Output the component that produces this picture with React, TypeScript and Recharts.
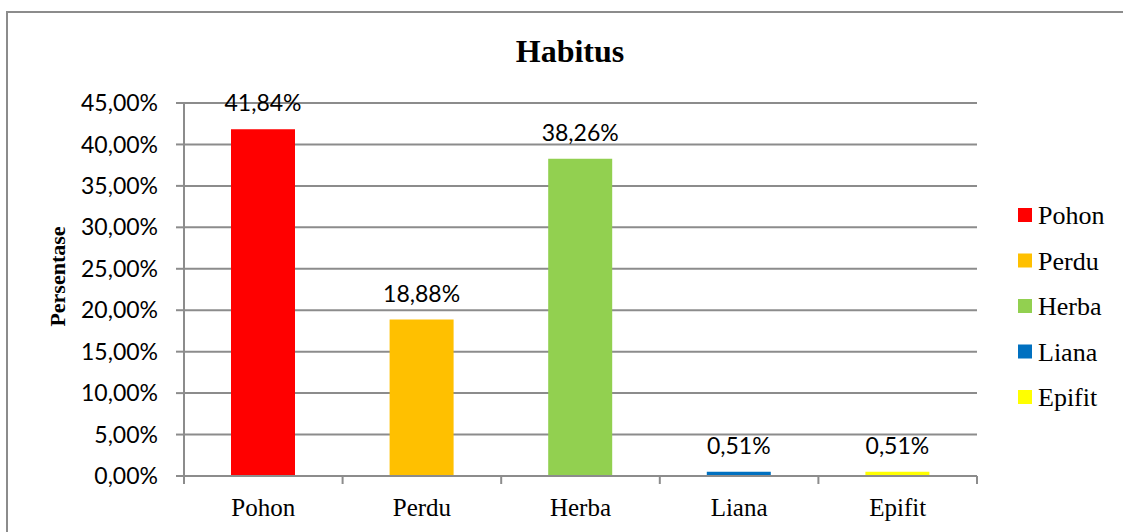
import { BarChart, Bar, XAxis, YAxis, CartesianGrid, Cell, LabelList, Label } from 'recharts'

// Habitus composition (percent)
const categories = ['Pohon', 'Perdu', 'Herba', 'Liana', 'Epifit']
const values = [41.84, 18.88, 38.26, 0.51, 0.51]
const colors = ['#FF0000', '#FFC000', '#92D050', '#0070C0', '#FFFF00']
const yTicks = [0, 5, 10, 15, 20, 25, 30, 35, 40, 45]

const data = categories.map((name, i) => ({ name, value: values[i] }))

const GRID = '#8c8c8c'
const SERIF = '"Liberation Serif", "Times New Roman", serif'
const SANS = 'Lato, "Open Sans", sans-serif'

const pct = (v: number) => `${v.toFixed(2).replace('.', ',')}%`

const CategoryTick = (props: any) => {
  const { x, y, payload, index } = props
  const half = payload?.offset || 79.3
  return (
    <g>
      <line x1={x - half} y1={y} x2={x - half} y2={y + 8} stroke={GRID} strokeWidth={2} />
      {index === categories.length - 1 && (
        <line x1={x + half} y1={y} x2={x + half} y2={y + 8} stroke={GRID} strokeWidth={2} />
      )}
      <text x={x} y={y + 40} textAnchor="middle" fontFamily={SERIF} fontSize={25} fill="#000">
        {payload.value}
      </text>
    </g>
  )
}

export default function App() {
  return (
    <div style={{ position: 'absolute', left: 0, top: 0, width: 1123, height: 532, background: '#fff' }}>
      <svg width={1123} height={532} style={{ position: 'absolute', left: 0, top: 0 }}>
        <line x1={7} y1={12} x2={1123} y2={12} stroke={GRID} strokeWidth={2} />
        <line x1={7} y1={11} x2={7} y2={532} stroke={GRID} strokeWidth={2} />
        <text x={570} y={62} textAnchor="middle" fontFamily={SERIF} fontWeight="bold" fontSize={32} fill="#000">
          Habitus
        </text>
      </svg>

      <div style={{ position: 'absolute', left: 0, top: 0 }}>
        <BarChart
          width={1123}
          height={532}
          data={data}
          margin={{ top: 103, right: 146, bottom: 6, left: 30 }}
        >
          <CartesianGrid vertical={false} stroke={GRID} strokeWidth={2} />
          <XAxis
            dataKey="name"
            height={50}
            axisLine={{ stroke: GRID, strokeWidth: 2 }}
            tickLine={false}
            tickSize={0}
            tickMargin={0}
            tick={<CategoryTick />}
            interval={0}
          />
          <YAxis
            width={154}
            domain={[0, 45]}
            ticks={yTicks}
            interval={0}
            tickFormatter={pct}
            axisLine={{ stroke: GRID, strokeWidth: 2 }}
            tickLine={{ stroke: GRID, strokeWidth: 2 }}
            tickSize={8}
            tickMargin={18}
            tick={{ fontFamily: SANS, fontSize: 23, fill: '#000' }}
          >
            <Label
              content={(p: any) => {
                const vb = p.viewBox || { x: 30, y: 103, height: 373 }
                const cx = vb.x + 27
                const cy = vb.y + vb.height / 2 - 13
                return (
                  <text
                    x={cx}
                    y={cy}
                    transform={`rotate(-90 ${cx} ${cy})`}
                    textAnchor="middle"
                    dominantBaseline="central"
                    fontFamily={SERIF}
                    fontWeight="bold"
                    fontSize={22}
                    fill="#000"
                  >
                    Persentase
                  </text>
                )
              }}
            />
          </YAxis>
          <Bar dataKey="value" barSize={64} isAnimationActive={false}>
            {data.map((d, i) => (
              <Cell key={d.name} fill={colors[i]} />
            ))}
            <LabelList
              dataKey="value"
              position="top"
              offset={18}
              formatter={(v: any) => pct(Number(v))}
              style={{ fontFamily: SANS, fontSize: 23, fill: '#000' }}
            />
          </Bar>
        </BarChart>
      </div>

      {/* Legend */}
      <svg width={110} height={240} style={{ position: 'absolute', left: 1013, top: 190 }}>
        {categories.map((c, i) => (
          <g key={c} transform={`translate(0, ${25 + i * 45.5})`}>
            <rect x={5} y={-7} width={14} height={14} fill={colors[i]} />
            <text x={25} y={9} fontFamily={SERIF} fontSize={26} fill="#000">
              {c}
            </text>
          </g>
        ))}
      </svg>
    </div>
  )
}
